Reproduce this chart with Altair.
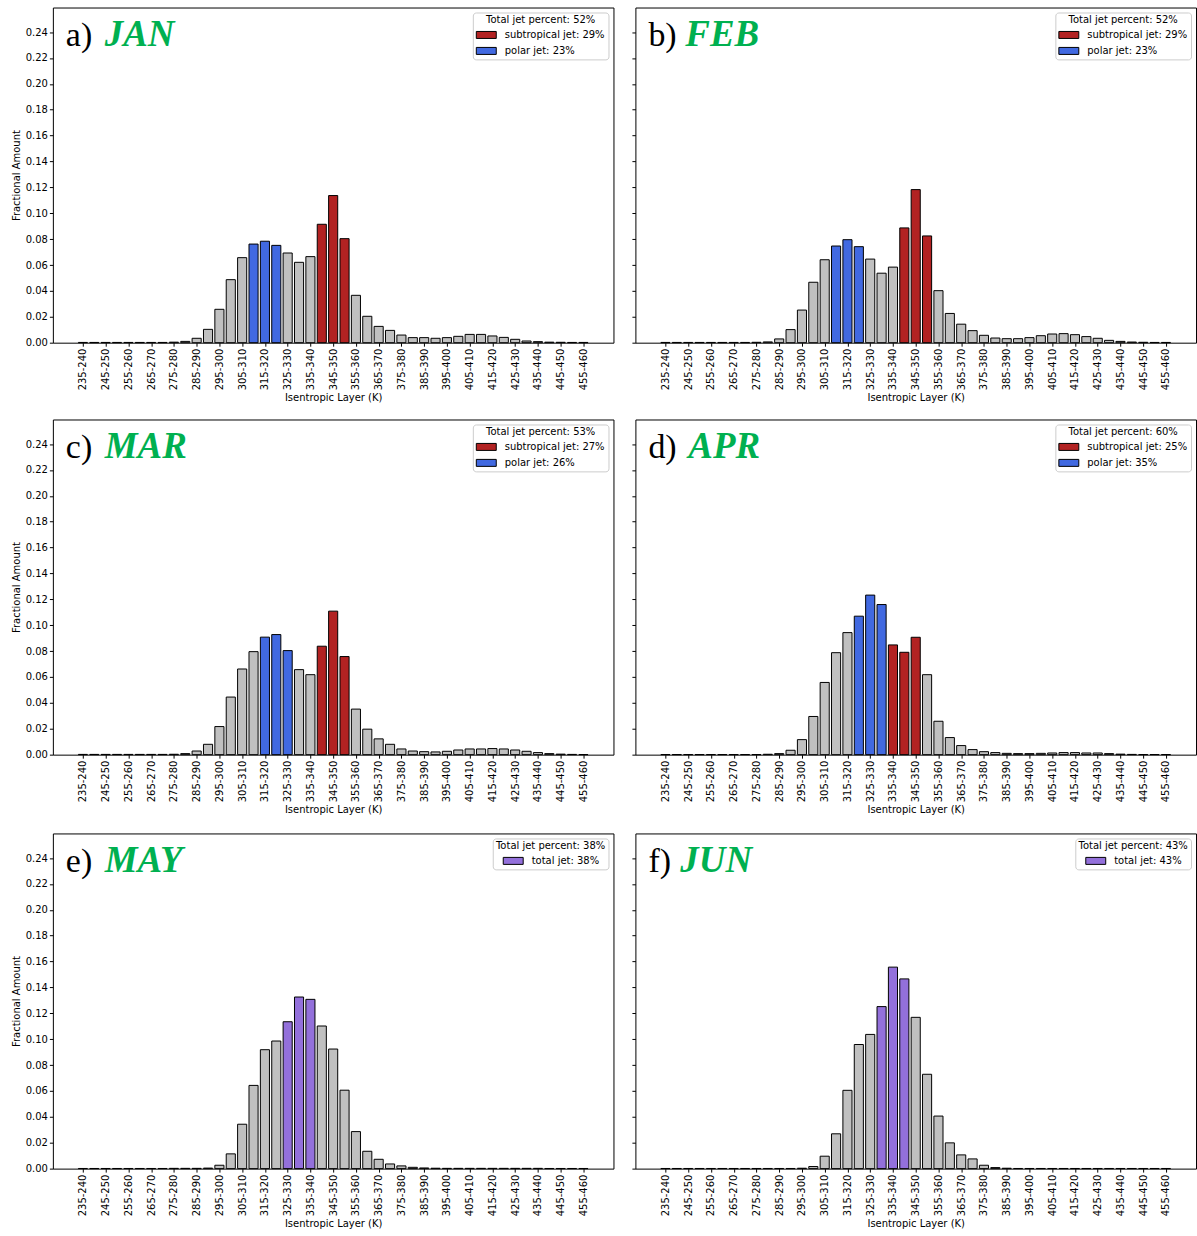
import json

import altair as alt
import pandas as pd

# Isentropic layers, 5 K wide, 235-460 K
layers = [f"{t}-{t + 5}" for t in range(235, 460, 5)]

# Fractional amount of jet-core occurrences per layer (45 values each)
jan = [0.0002, 0.0002, 0.0002, 0.0002, 0.0002, 0.0002, 0.0002, 0.0002, 0.0004, 0.0010,
       0.0034, 0.0103, 0.0258, 0.0487, 0.0657, 0.0762, 0.0784, 0.0752, 0.0693, 0.0621,
       0.0665, 0.0915, 0.1137, 0.0804, 0.0366, 0.0204, 0.0126, 0.0095, 0.0059, 0.0039,
       0.0039, 0.0034, 0.0039, 0.0049, 0.0064, 0.0064, 0.0052, 0.0041, 0.0026, 0.0013,
       0.0008, 0.0004, 0.0003, 0.0002, 0.0002]
feb = [0.0002, 0.0002, 0.0002, 0.0002, 0.0002, 0.0002, 0.0002, 0.0002, 0.0003, 0.0006,
       0.0029, 0.0101, 0.0252, 0.0467, 0.0641, 0.0747, 0.0796, 0.0742, 0.0646, 0.0537,
       0.0584, 0.0887, 0.1183, 0.0825, 0.0402, 0.0226, 0.0143, 0.0093, 0.0057, 0.0036,
       0.0031, 0.0031, 0.0039, 0.0054, 0.0067, 0.0070, 0.0062, 0.0047, 0.0034, 0.0018,
       0.0010, 0.0005, 0.0003, 0.0002, 0.0002]
mar = [0.0002, 0.0002, 0.0002, 0.0002, 0.0002, 0.0002, 0.0002, 0.0002, 0.0003, 0.0008,
       0.0028, 0.0080, 0.0217, 0.0445, 0.0662, 0.0796, 0.0908, 0.0928, 0.0804, 0.0657,
       0.0618, 0.0838, 0.1109, 0.0758, 0.0352, 0.0197, 0.0122, 0.0080, 0.0044, 0.0028,
       0.0023, 0.0021, 0.0026, 0.0036, 0.0044, 0.0044, 0.0047, 0.0044, 0.0036, 0.0026,
       0.0016, 0.0008, 0.0004, 0.0002, 0.0001]
apr = [0.0001, 0.0001, 0.0001, 0.0001, 0.0001, 0.0001, 0.0001, 0.0001, 0.0001, 0.0003,
       0.0008, 0.0034, 0.0116, 0.0295, 0.0558, 0.0788, 0.0943, 0.1070, 0.1233, 0.1160,
       0.0848, 0.0791, 0.0907, 0.0618, 0.0258, 0.0132, 0.0070, 0.0039, 0.0023, 0.0016,
       0.0010, 0.0008, 0.0008, 0.0010, 0.0013, 0.0016, 0.0016, 0.0013, 0.0013, 0.0008,
       0.0004, 0.0002, 0.0001, 0.0001, 0.0001]
may = [0.0001, 0.0001, 0.0001, 0.0001, 0.0001, 0.0001, 0.0001, 0.0001, 0.0002, 0.0002,
       0.0002, 0.0004, 0.0026, 0.0114, 0.0343, 0.0643, 0.0919, 0.0986, 0.1135, 0.1326,
       0.1308, 0.1102, 0.0924, 0.0606, 0.0286, 0.0134, 0.0072, 0.0036, 0.0021, 0.0010,
       0.0005, 0.0003, 0.0002, 0.0002, 0.0002, 0.0002, 0.0002, 0.0002, 0.0002, 0.0002,
       0.0002, 0.0001, 0.0001, 0.0001, 0.0001]
jun = [0.0001, 0.0001, 0.0001, 0.0001, 0.0001, 0.0001, 0.0001, 0.0001, 0.0001, 0.0001,
       0.0001, 0.0001, 0.0003, 0.0016, 0.0096, 0.0269, 0.0605, 0.0959, 0.1037, 0.1252,
       0.1557, 0.1466, 0.1169, 0.0729, 0.0406, 0.0199, 0.0106, 0.0075, 0.0026, 0.0008,
       0.0003, 0.0001, 0.0001, 0.0001, 0.0001, 0.0001, 0.0001, 0.0001, 0.0001, 0.0001,
       0.0001, 0.0001, 0.0001, 0.0001, 0.0001]

months = ["JAN", "FEB", "MAR", "APR", "MAY", "JUN"]
panel_letters = ["a)", "b)", "c)", "d)", "e)", "f)"]
fractions = [jan, feb, mar, apr, may, jun]

# Jet percentages shown in each legend
total_pct = [52, 52, 53, 60, 38, 43]
subtropical_pct = [29, 29, 27, 25, None, None]
polar_pct = [23, 23, 26, 35, None, None]

# Layers flagged as jet layers in each month
subtropical_layers = [
    ["340-345", "345-350", "350-355"],
    ["340-345", "345-350", "350-355"],
    ["340-345", "345-350", "350-355"],
    ["335-340", "340-345", "345-350"],
    [], [],
]
polar_layers = [
    ["310-315", "315-320", "320-325"],
    ["310-315", "315-320", "320-325"],
    ["315-320", "320-325", "325-330"],
    ["320-325", "325-330", "330-335"],
    [], [],
]
total_jet_layers = [
    [], [], [], [],
    ["325-330", "330-335", "335-340"],
    ["330-335", "335-340", "340-345"],
]

SILVER = "#c0c0c0"
FIREBRICK = "#b22222"
ROYALBLUE = "#4169e1"
MEDIUMPURPLE = "#9370db"
GREEN = "#00b050"

PANEL_W = 562
PANEL_H = 336
BAR_W = 0.8
X_MARGIN = 0.05 * (len(layers) - 1 + BAR_W)  # matplotlib-style 5% axis margin
Y_TICKS = [round(0.02 * k, 2) for k in range(13)]
X_TICKS = list(range(0, len(layers), 2))
LABEL_EXPR = f"{json.dumps(layers)}[datum.value]"
# horizontal start of the month name, after the panel letter
MONTH_X = {"a)": 52, "b)": 50, "c)": 52, "d)": 53, "e)": 52, "f)": 45}


def panel(i, left):
    names, colors = [], []
    lookup = {}
    if subtropical_pct[i] is not None:
        name = f"subtropical jet: {subtropical_pct[i]}%"
        names.append(name)
        colors.append(FIREBRICK)
        lookup.update({l: name for l in subtropical_layers[i]})
    if polar_pct[i] is not None:
        name = f"polar jet: {polar_pct[i]}%"
        names.append(name)
        colors.append(ROYALBLUE)
        lookup.update({l: name for l in polar_layers[i]})
    if total_jet_layers[i]:
        name = f"total jet: {total_pct[i]}%"
        names.append(name)
        colors.append(MEDIUMPURPLE)
        lookup.update({l: name for l in total_jet_layers[i]})

    df = pd.DataFrame({
        "layer": layers,
        "pos": list(range(len(layers))),
        "frac": fractions[i],
        "jet": [lookup.get(l, "") for l in layers],
    })

    x = alt.X(
        "lo:Q",
        scale=alt.Scale(domain=[-BAR_W / 2 - X_MARGIN, len(layers) - 1 + BAR_W / 2 + X_MARGIN],
                        nice=False, zero=False),
        axis=alt.Axis(values=X_TICKS, labelExpr=LABEL_EXPR, labelAngle=270,
                      title="Isentropic Layer (K)", labelPadding=2, titlePadding=3,
                      labelFlush=False, labelOverlap=False, grid=False, domain=False),
    )
    x2 = alt.X2("hi:Q")
    y = alt.Y(
        "frac:Q",
        scale=alt.Scale(domain=[0, 0.259], nice=False, zero=True),
        axis=alt.Axis(values=Y_TICKS, format=".2f", labels=left,
                      title="Fractional Amount" if left else None,
                      labelPadding=2, titlePadding=4, grid=False, domain=False),
    )
    y2 = alt.datum(0)

    base = alt.Chart(df).transform_calculate(
        lo=f"datum.pos - {BAR_W / 2}", hi=f"datum.pos + {BAR_W / 2}"
    )
    gray = base.transform_filter("datum.jet == ''").mark_bar(
        color=SILVER, stroke="black", strokeWidth=1
    ).encode(x=x, x2=x2, y=y, y2=y2)
    jets = base.transform_filter("datum.jet != ''").mark_bar(
        stroke="black", strokeWidth=1
    ).encode(
        x=x, x2=x2, y=y, y2=y2,
        color=alt.Color(
            "jet:N",
            scale=alt.Scale(domain=names, range=colors),
            legend=alt.Legend(
                title=f"Total jet percent: {total_pct[i]}%",
                orient="top-right", offset=5,
                fillColor="white", strokeColor="#cccccc", cornerRadius=3,
                padding=3, titleAnchor="middle", titleFontWeight="normal",
                titleFontSize=10, titleFont="DejaVu Sans", titleColor="black",
                titlePadding=-1,
                labelFontSize=10, labelFont="DejaVu Sans", labelColor="black",
                symbolType="M-1,-0.35L1,-0.35L1,0.35L-1,0.35Z", symbolSize=400,
                symbolStrokeColor="black", symbolStrokeWidth=1, symbolOpacity=1,
                labelOffset=8, rowPadding=-5,
            ),
        ),
    )

    tag = alt.Chart(pd.DataFrame({"t": [panel_letters[i]]})).mark_text(
        font="Liberation Serif", fontSize=34, color="black",
        align="left", baseline="alphabetic",
    ).encode(text="t:N", x=alt.value(13), y=alt.value(39))
    month = alt.Chart(pd.DataFrame({"t": [months[i]]})).mark_text(
        font="Liberation Serif", fontSize=37, fontStyle="italic", fontWeight="bold",
        color=GREEN, align="left", baseline="alphabetic",
    ).encode(text="t:N", x=alt.value(MONTH_X[panel_letters[i]]), y=alt.value(39))

    return alt.layer(gray, jets, tag, month).properties(width=PANEL_W, height=PANEL_H)


def row(r):
    return (
        alt.hconcat(panel(2 * r, True), panel(2 * r + 1, False), spacing=16)
        .resolve_scale(color="independent", x="independent", y="independent")
    )


top_rows = alt.vconcat(row(0), row(1), spacing=15).resolve_scale(
    color="independent", x="independent", y="independent"
)

chart = (
    alt.vconcat(top_rows, row(2), spacing=17)
    .resolve_scale(color="independent", x="independent", y="independent")
    .properties(padding={"left": 10, "top": 5, "right": 0, "bottom": 0}, background="white")
    .configure_view(stroke="black", strokeWidth=1)
    .configure_axis(
        labelFont="DejaVu Sans", labelFontSize=10, labelColor="black",
        titleFont="DejaVu Sans", titleFontSize=10, titleFontWeight="normal",
        titleColor="black", tickColor="black", tickSize=3.5, tickWidth=1,
        domain=False, grid=False,
    )
)

chart.save("out.html", embed_options={"renderer": "svg", "actions": False})
